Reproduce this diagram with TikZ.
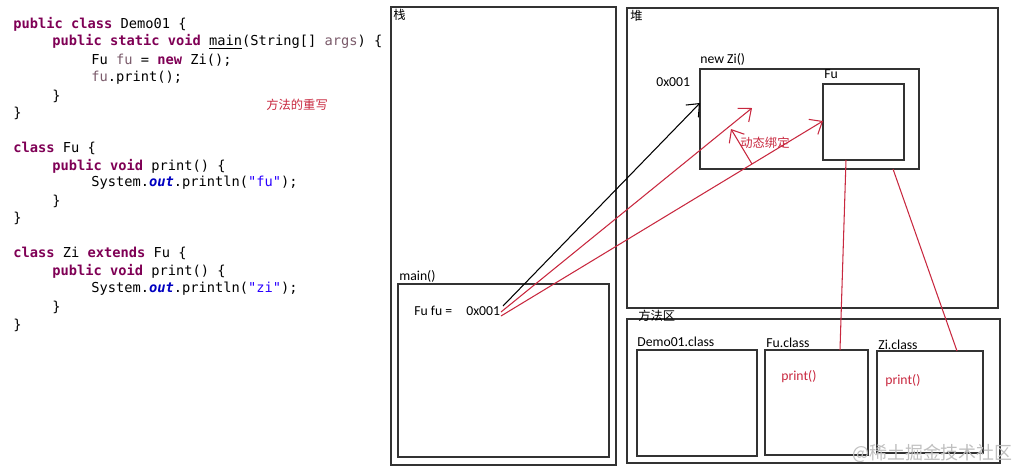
\documentclass[tikz,border=0pt]{standalone}
\usepackage{fontspec}
\setmainfont{Carlito}
\setmonofont{DejaVu Sans Mono}
\newfontfamily\cjk{Noto Sans CJK SC}
\usetikzlibrary{arrows.meta,fit}
\definecolor{kwcol}{HTML}{7F0055}
\definecolor{varcol}{HTML}{7A5A6A}
\definecolor{outcol}{HTML}{0000C0}
\definecolor{strcol}{HTML}{2A00FF}
\definecolor{redln}{HTML}{C8283F}
\newcommand{\jkw}[1]{\textbf{\color{kwcol}#1}}
\newcommand{\jvar}[1]{{\color{varcol}#1}}
\newcommand{\jout}[1]{\textbf{\textit{\color{outcol}#1}}}
\newcommand{\jstr}[1]{{\color{strcol}#1}}
\tikzset{
  code/.style={anchor=west, inner sep=0pt, font=\ttfamily\fontsize{7.8}{9}\selectfont},
  box/.style={draw=black!80, line width=0.9pt, inner sep=0pt},
  lbl/.style={anchor=west, inner sep=0pt, font=\fontsize{7.8}{9}\selectfont},
  cjklbl/.style={anchor=west, inner sep=0pt, font=\cjk\fontsize{7}{8}\selectfont},
  ptr/.style={line width=0.6pt, -{Straight Barb[length=6pt,width=10pt]}},
}
\begin{document}
\begin{tikzpicture}[x=0.02cm, y=-0.02cm]
\useasboundingbox (0,0) rectangle (1018,471);
% source code
\node[code] (c1) at (13,24) {\jkw{public} \jkw{class} Demo01 \{};
\node[code] (c2) at (52,42) {\jkw{public} \jkw{static} \jkw{void} \underline{main}(String[] \jvar{args}) \{};
\node[code] (c3) at (91,60) {Fu \jvar{fu} = \jkw{new} Zi();};
\node[code] (c4) at (91,78) {\jvar{fu}.print();};
\node[code] (c5) at (52,96) {\}};
\node[code] (c6) at (13,113) {\}};
\node[code] (c7) at (13,148) {\jkw{class} Fu \{};
\node[code] (c8) at (52,166) {\jkw{public} \jkw{void} print() \{};
\node[code] (c9) at (91,183) {System.\jout{out}.println(\jstr{"fu"});};
\node[code] (c10) at (52,201) {\}};
\node[code] (c11) at (13,218) {\}};
\node[code] (c12) at (13,253) {\jkw{class} Zi \jkw{extends} Fu \{};
\node[code] (c13) at (52,271) {\jkw{public} \jkw{void} print() \{};
\node[code] (c14) at (91,289) {System.\jout{out}.println(\jstr{"zi"});};
\node[code] (c15) at (52,307) {\}};
\node[code] (c16) at (13,325) {\}};
\node[cjklbl, text=redln] (override) at (266,105) {方法的重写};

% stack
\node[box, fit={(391,7) (616,465)}] (stack) {};
\node[cjklbl] (stacklbl) at (393,15) {栈};
\node[box, fit={(398,284) (609,457)}] (mainf) {};
\node[lbl] (mainlbl) at (399,276) {main()};
\node[lbl] (fuvar) at (414,311) {Fu fu =};
\node[lbl] (addr) at (466,311) {0x001};

% heap
\node[box, fit={(627,8) (998,308)}] (heap) {};
\node[cjklbl] (heaplbl) at (630,16) {堆};
\node[box, fit={(700,69) (919,169)}] (zi) {};
\node[lbl] (zilbl) at (700,59) {new Zi()};
\node[lbl] (ziaddr) at (656,82) {0x001};
\node[box, fit={(823,84) (904,160)}] (fubox) {};
\node[lbl] (fulbl) at (824,74) {Fu};
\node[cjklbl, text=redln] (bind) at (740,143) {动态绑定};

% method area
\node[box, fit={(627,319) (1000,463)}] (marea) {};
\node[cjklbl] (marealbl) at (638,316) {方法区};
\node[box, fit={(637,350) (757,456)}] (democls) {};
\node[lbl] (demolbl) at (637,342) {Demo01.class};
\node[box, fit={(765,350) (868,455)}] (fucls) {};
\node[lbl] (fuclslbl) at (766,343) {Fu.class};
\node[lbl, text=redln] (fuprint) at (781,377) {print()};
\node[box, fit={(877,351) (983,453)}] (zicls) {};
\node[lbl] (ziclslbl) at (878,345) {Zi.class};
\node[lbl, text=redln] (ziprint) at (885,381) {print()};
\node[cjklbl, text=black!25, font=\cjk\fontsize{10.2}{12}\selectfont] (wm) at (852,453) {@稀土掘金技术社区};

% connectors
\coordinate (p0) at (503,306);
\coordinate (p1) at (501,312);
\coordinate (p2) at (501,316);
\coordinate (ziin) at (700,103);
\coordinate (zimid) at (752,108);
\coordinate (fuin) at (823,121);
\coordinate (bfrom) at (752,164);
\coordinate (bto) at (731,129);
\coordinate (fuout) at (846,160);
\coordinate (fuclsin) at (840,350);
\coordinate (ziout) at (893,169);
\coordinate (ziclsin) at (957,351);
\draw[ptr] (p0) -- (ziin);
\draw[ptr, redln] (p1) -- (zimid);
\draw[ptr, redln] (p2) -- (fuin);
\draw[ptr, redln] (bfrom) -- (bto);
\draw[redln, line width=0.6pt] (fuout) -- (fuclsin);
\draw[redln, line width=0.6pt] (ziout) -- (ziclsin);
\end{tikzpicture}
\end{document}
